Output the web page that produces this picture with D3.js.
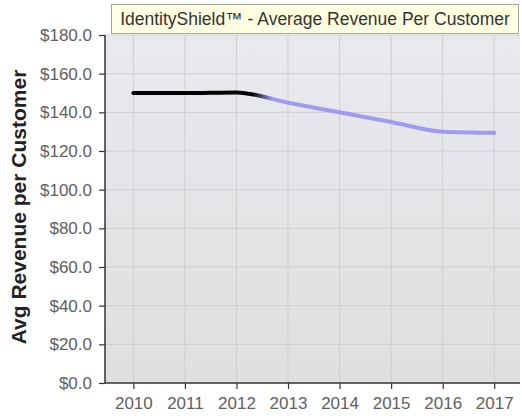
<!DOCTYPE html>
<html>
<head>
<meta charset="utf-8">
<script src="https://cdn.jsdelivr.net/npm/d3@7"></script>
<style>
  body { margin: 0; background: #fff; }
  svg { display: block; font-family: Arial, "Liberation Sans", sans-serif; }
</style>
</head>
<body>
<svg width="522" height="420"></svg>
<script>
// data
const years = [2010, 2011, 2012, 2013, 2014, 2015, 2016, 2017];
const revenue = [150.0, 150.0, 150.3, 145.0, 140.0, 135.0, 130.0, 129.5];
const actualUntil = 2012.3;   // black part, then fades into forecast colour
const forecastFrom = 2012.7;
const yTicks = [0, 20, 40, 60, 80, 100, 120, 140, 160, 180];
const titleText = 'IdentityShield\u2122 - Average Revenue Per Customer';
const yTitle = 'Avg Revenue per Customer';

const svg = d3.select('svg');
const margin = { top: 35, right: 2, bottom: 37, left: 105 };
const width = +svg.attr('width');
const height = +svg.attr('height');
const innerWidth = width - margin.left - margin.right;
const innerHeight = height - margin.top - margin.bottom;

const x = d3.scaleLinear().domain([2009.45, 2017.5]).range([0, innerWidth]);
const y = d3.scaleLinear().domain([0, 180]).range([innerHeight, 0]);

const defs = svg.append('defs');
const bg = defs.append('linearGradient').attr('id', 'bg')
  .attr('x1', 0).attr('y1', 0).attr('x2', 0).attr('y2', 1);
bg.append('stop').attr('offset', '0%').attr('stop-color', '#e8eaee');
bg.append('stop').attr('offset', '100%').attr('stop-color', '#dfdfe0');

const lineGrad = defs.append('linearGradient').attr('id', 'lineGrad')
  .attr('gradientUnits', 'userSpaceOnUse')
  .attr('x1', x(actualUntil)).attr('y1', 0)
  .attr('x2', x(forecastFrom)).attr('y2', 0);
lineGrad.append('stop').attr('offset', '0%').attr('stop-color', '#000');
lineGrad.append('stop').attr('offset', '100%').attr('stop-color', '#9d9cf2');

const g = svg.append('g').attr('transform', `translate(${margin.left},${margin.top})`);

g.append('rect')
  .attr('width', innerWidth).attr('height', innerHeight)
  .attr('fill', 'url(#bg)');

// grid
g.append('g').selectAll('line').data(yTicks.slice(1)).join('line')
  .attr('x1', 0).attr('x2', innerWidth)
  .attr('y1', d => y(d)).attr('y2', d => y(d))
  .attr('stroke', '#cfcfcf').attr('stroke-width', 1);
g.append('g').selectAll('line').data(years).join('line')
  .attr('x1', d => x(d)).attr('x2', d => x(d))
  .attr('y1', 0).attr('y2', innerHeight)
  .attr('stroke', '#cfcfcf').attr('stroke-width', 1);

// line
const line = d3.line()
  .x((d, i) => x(years[i]))
  .y(d => y(d))
  .curve(d3.curveMonotoneX);
g.append('path')
  .datum(revenue)
  .attr('d', line)
  .attr('fill', 'none')
  .attr('stroke', 'url(#lineGrad)')
  .attr('stroke-width', 4)
  .attr('stroke-linecap', 'round');

// axes
const yAxis = g.append('g')
  .call(d3.axisLeft(y).tickValues(yTicks).tickSize(6).tickPadding(7)
    .tickFormat(d => '$' + d3.format('.1f')(d)));
const xAxis = g.append('g')
  .attr('transform', `translate(0,${innerHeight})`)
  .call(d3.axisBottom(x).tickValues(years).tickSize(6).tickPadding(8)
    .tickFormat(d3.format('d')));

[yAxis, xAxis].forEach(ax => {
  ax.select('.domain').attr('stroke', '#333').attr('stroke-width', 1.5);
  ax.selectAll('.tick line').attr('stroke', '#333').attr('stroke-width', 1.2);
  ax.selectAll('.tick text')
    .attr('fill', '#606060')
    .style('font-size', '17px')
    .style('font-family', 'Arial, "Liberation Sans", sans-serif');
});
yAxis.select('.domain').attr('d', `M0,0V${innerHeight}`);
xAxis.select('.domain').attr('d', `M0,0H${innerWidth}`);

// y title
svg.append('text')
  .attr('transform', `translate(26,207) rotate(-90)`)
  .attr('text-anchor', 'middle')
  .attr('fill', '#222')
  .style('font-size', '21px')
  .style('font-weight', 'bold')
  .text(yTitle);

// title box
svg.append('rect')
  .attr('x', 111.5).attr('y', 4.5)
  .attr('width', 407).attr('height', 29)
  .attr('fill', '#ffffe1')
  .attr('stroke', '#a8a898');
svg.append('text')
  .attr('x', 315).attr('y', 25)
  .attr('text-anchor', 'middle')
  .attr('fill', '#333')
  .style('font-size', '17.5px')
  .text(titleText);
</script>
</body>
</html>
